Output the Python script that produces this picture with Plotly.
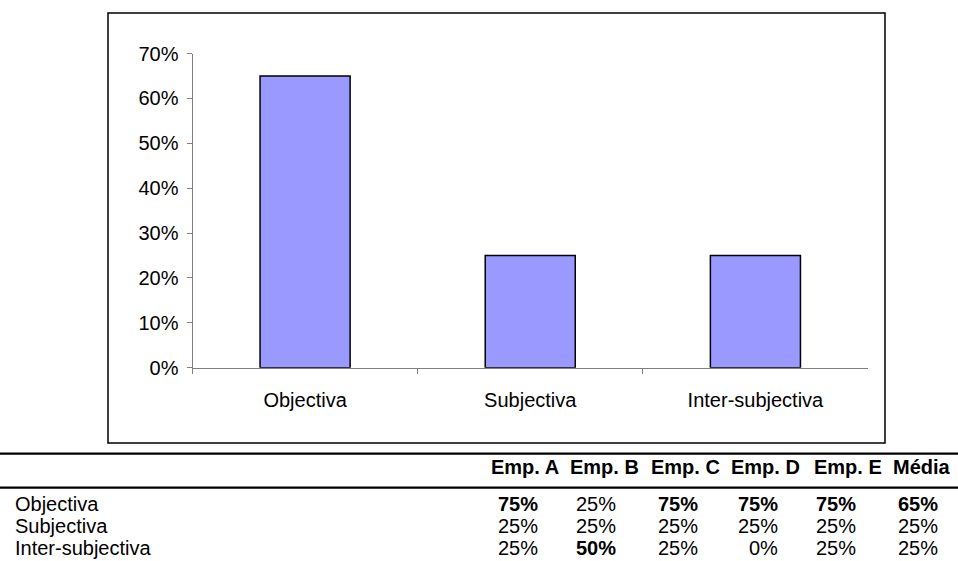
import plotly.graph_objects as go

# Data
categories = ["Objectiva", "Subjectiva", "Inter-subjectiva"]
companies = ["Emp. A", "Emp. B", "Emp. C", "Emp. D", "Emp. E", "Média"]
table_values = {
    "Objectiva":        [75, 25, 75, 75, 75, 65],
    "Subjectiva":       [25, 25, 25, 25, 25, 25],
    "Inter-subjectiva": [25, 50, 25, 0, 25, 25],
}
media = [table_values[c][-1] / 100 for c in categories]
y_ticks = [0, 0.1, 0.2, 0.3, 0.4, 0.5, 0.6, 0.7]

W, H = 958, 561
FONT = "Liberation Sans, Arial, sans-serif"
FS = 20


def px(x):
    return x / W


def py(y):
    return 1 - y / H


fig = go.Figure()
fig.add_trace(go.Bar(
    x=categories, y=media, width=0.4,
    marker=dict(color="#9999FF", line=dict(color="#000000", width=1.5)),
    hoverinfo="x+y",
))

fig.update_layout(
    template="none",
    width=W, height=H,
    margin=dict(l=0, r=0, t=0, b=0, pad=0),
    paper_bgcolor="white", plot_bgcolor="white",
    showlegend=False,
    font=dict(family=FONT, size=FS, color="#000000"),
    xaxis=dict(
        domain=[px(192.5), px(868)],
        automargin=False,
        showline=True, linecolor="#808080", linewidth=1,
        ticks="outside", tickson="boundaries", ticklen=5, tickcolor="#808080",
        showgrid=False, tickfont=dict(size=FS), ticklabelstandoff=14,
        fixedrange=True,
    ),
    yaxis=dict(
        domain=[py(367.7), py(53.5)],
        automargin=False,
        range=[0, 0.7], tickvals=y_ticks, tickformat=".0%",
        showline=True, linecolor="#808080", linewidth=1,
        ticks="outside", ticklen=5, tickcolor="#808080",
        showgrid=False, zeroline=False, tickfont=dict(size=FS),
        ticklabelstandoff=4,
        fixedrange=True,
    ),
)

shapes = []
# Chart frame
shapes.append(dict(type="rect", xref="paper", yref="paper",
                   x0=px(108), x1=px(885), y0=py(443), y1=py(13),
                   line=dict(color="#000000", width=1.5), fillcolor="rgba(0,0,0,0)"))
# Table rules
for yy in (453.7, 487.7):
    shapes.append(dict(type="line", xref="paper", yref="paper",
                       x0=px(0), x1=px(958), y0=py(yy), y1=py(yy),
                       line=dict(color="#000000", width=2.2)))
fig.update_layout(shapes=shapes)

# Table text
head_right = [561, 641, 722, 802, 884, 953]
val_right = [540, 618, 700, 780, 858, 940]
header_y = 467
row_y = [504, 526, 548]
ann = []
for name, xr in zip(companies, head_right):
    ann.append(dict(x=px(xr), y=py(header_y), xref="paper", yref="paper",
                    text=f"<b>{name}</b>", showarrow=False,
                    xanchor="right", yanchor="middle", font=dict(size=FS)))

col_max = [max(table_values[c][i] for c in categories) for i in range(len(companies))]
for cat, yy in zip(categories, row_y):
    ann.append(dict(x=px(13), y=py(yy), xref="paper", yref="paper",
                    text=cat, showarrow=False,
                    xanchor="left", yanchor="middle", font=dict(size=FS)))
    for i, (v, xr) in enumerate(zip(table_values[cat], val_right)):
        txt = f"{v}%"
        if v == col_max[i]:
            txt = f"<b>{txt}</b>"
        ann.append(dict(x=px(xr), y=py(yy), xref="paper", yref="paper",
                        text=txt, showarrow=False,
                        xanchor="right", yanchor="middle", font=dict(size=FS)))
fig.update_layout(annotations=ann)

fig.write_html("out.html", config={"displayModeBar": False})
